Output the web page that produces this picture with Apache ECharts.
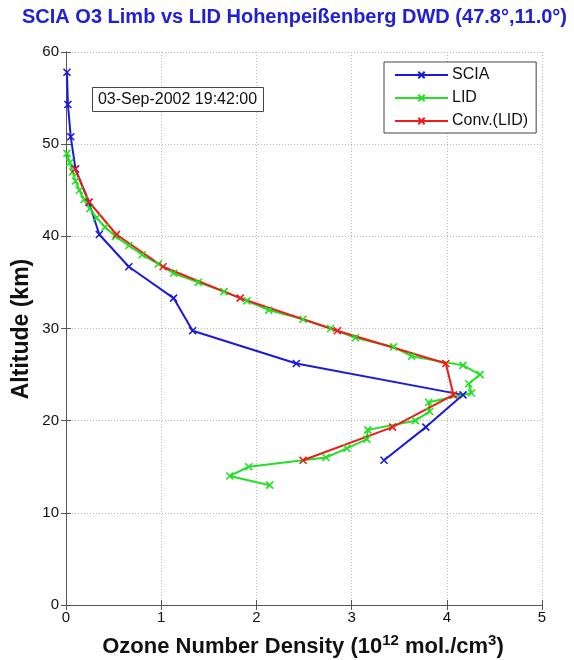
<!DOCTYPE html>
<html>
<head>
<meta charset="utf-8">
<script src="https://cdn.jsdelivr.net/npm/echarts@6/dist/echarts.min.js"></script>
<style>html,body{margin:0;padding:0;background:#fff;}#c{width:574px;height:660px;}</style>
</head>
<body>
<div id="c"></div>
<script>
// ---- data ----
const sciaAlt  = [57.8, 54.3, 50.8, 47.3, 43.7, 40.2, 36.7, 33.3, 29.75, 26.2, 22.8, 19.3, 15.7];
const sciaDens = [0.01, 0.02, 0.05, 0.10, 0.24, 0.35, 0.66, 1.13, 1.33, 2.42, 4.17, 3.78, 3.34];

const lidAlt  = [49,48,47,46,45,44,43,42,41,40,39,38,37,36,35,34,33,32,31,30,29,28,27,26,25,24,23,22,21,20,19,18,17,16,15,14,13];
const lidDens = [0.01,0.04,0.07,0.10,0.14,0.19,0.25,0.32,0.41,0.52,0.66,0.80,0.97,1.13,1.39,1.66,1.90,2.13,2.49,2.78,3.04,3.44,3.63,4.17,4.35,4.23,4.26,3.81,3.82,3.67,3.17,3.16,2.95,2.73,1.92,1.72,2.14];

const convAlt  = [47.3, 43.7, 40.2, 36.7, 33.3, 29.75, 26.2, 22.8, 19.3, 15.7];
const convDens = [0.095, 0.245, 0.53, 1.02, 1.83, 2.85, 3.99, 4.07, 3.43, 2.49];

const xTicks = [0, 1, 2, 3, 4, 5];
const yTicks = [0, 10, 20, 30, 40, 50, 60];
const seriesNames = ['SCIA', 'LID', 'Conv.(LID)'];
const seriesColors = ['#1a1adc', '#22e022', '#f01a1a'];
const titleText = 'SCIA O3 Limb vs LID Hohenpeißenberg DWD (47.8°,11.0°)';
const dateText = '03-Sep-2002 19:42:00';

function pairs(xs, ys) { return xs.map((v, i) => [v, ys[i]]); }

const FONT = '"Liberation Sans", Arial, sans-serif';
const xMark = 'path://M0,0L10,10M10,0L0,10';

function mkSeries(name, data, color) {
  return {
    name: name, type: 'line', data: data,
    symbol: xMark, symbolSize: 7,
    lineStyle: { color: color, width: 2 },
    itemStyle: { color: 'rgba(0,0,0,0)', borderColor: color, borderWidth: 1.6 },
    emphasis: { disabled: true },
    animation: false
  };
}

const chart = echarts.init(document.getElementById('c'), null, { renderer: 'canvas' });
const gridLine = { show: true, lineStyle: { color: '#b8b8b8', type: [1, 2], width: 1 } };
const axisLine = { show: true, lineStyle: { color: '#555', width: 1 } };

chart.setOption({
  backgroundColor: '#fff',
  animation: false,
  title: {
    text: titleText, left: 17, top: 2,
    textStyle: { color: '#2020d8', fontSize: 20, fontWeight: 'bold', fontFamily: FONT }
  },
  grid: { left: 66, top: 52, width: 476, height: 553 },
  xAxis: [{
    type: 'value', min: 0, max: 5, interval: 1, position: 'bottom',
    axisLine: axisLine, axisTick: { inside: true, length: 5, lineStyle: { color: '#555' } },
    axisLabel: { color: '#111', fontSize: 15, fontFamily: FONT, margin: 5,
      formatter: v => xTicks.includes(v) ? String(v) : '' },
    splitLine: gridLine
  }, {
    type: 'value', min: 0, max: 5, interval: 1, position: 'top',
    axisLine: axisLine, axisTick: { inside: true, length: 5, lineStyle: { color: '#555' } },
    axisLabel: { show: false }, splitLine: { show: false }
  }],
  yAxis: [{
    type: 'value', min: 0, max: 60, interval: 10, position: 'left',
    axisLine: axisLine, axisTick: { inside: true, length: 5, lineStyle: { color: '#555' } },
    axisLabel: { color: '#111', fontSize: 15, fontFamily: FONT, margin: 7,
      formatter: v => yTicks.includes(v) ? String(v) : '' },
    splitLine: gridLine
  }, {
    type: 'value', min: 0, max: 60, interval: 10, position: 'right',
    axisLine: axisLine, axisTick: { inside: true, length: 5, lineStyle: { color: '#555' } },
    axisLabel: { show: false }, splitLine: { show: false }
  }],
  legend: {
    orient: 'vertical', left: 384, top: 62,
    itemWidth: 53, itemHeight: 8, itemGap: 7,
    padding: [5, 8, 4, 10],
    backgroundColor: '#fff', borderColor: '#444', borderWidth: 1,
    textStyle: { color: '#111', fontSize: 16, fontFamily: FONT, padding: [0, 0, 0, -1] },
    data: seriesNames
  },
  series: [
    mkSeries(seriesNames[0], pairs(sciaDens, sciaAlt), seriesColors[0]),
    mkSeries(seriesNames[1], pairs(lidDens, lidAlt), seriesColors[1]),
    mkSeries(seriesNames[2], pairs(convDens, convAlt), seriesColors[2])
  ],
  graphic: [
    {
      type: 'rect', left: 92, top: 87, z: 10,
      shape: { width: 171, height: 24 },
      style: { fill: '#fff', stroke: '#444', lineWidth: 1 }
    },
    {
      type: 'text', x: 177.5, y: 99.5, z: 11,
      style: { text: dateText, fill: '#111', font: '16px ' + FONT, align: 'center', verticalAlign: 'middle' }
    },
    {
      type: 'text', x: 303, y: 647, z: 11,
      style: {
        text: '{a|Ozone Number Density (10}{s|12}{a| mol./cm}{s|3}{a|)}',
        align: 'center', verticalAlign: 'middle',
        rich: {
          a: { fontSize: 22, fontWeight: 'bold', fill: '#111', fontFamily: FONT },
          s: { fontSize: 15, fontWeight: 'bold', fill: '#111', fontFamily: FONT, padding: [0, 0, 12, 0] }
        }
      }
    },
    {
      type: 'text', x: 22, y: 329, rotation: Math.PI / 2, z: 11,
      style: {
        text: 'Altitude (km)', fill: '#111', align: 'center', verticalAlign: 'middle',
        font: 'bold 23px ' + FONT
      }
    }
  ]
});
</script>
</body>
</html>
